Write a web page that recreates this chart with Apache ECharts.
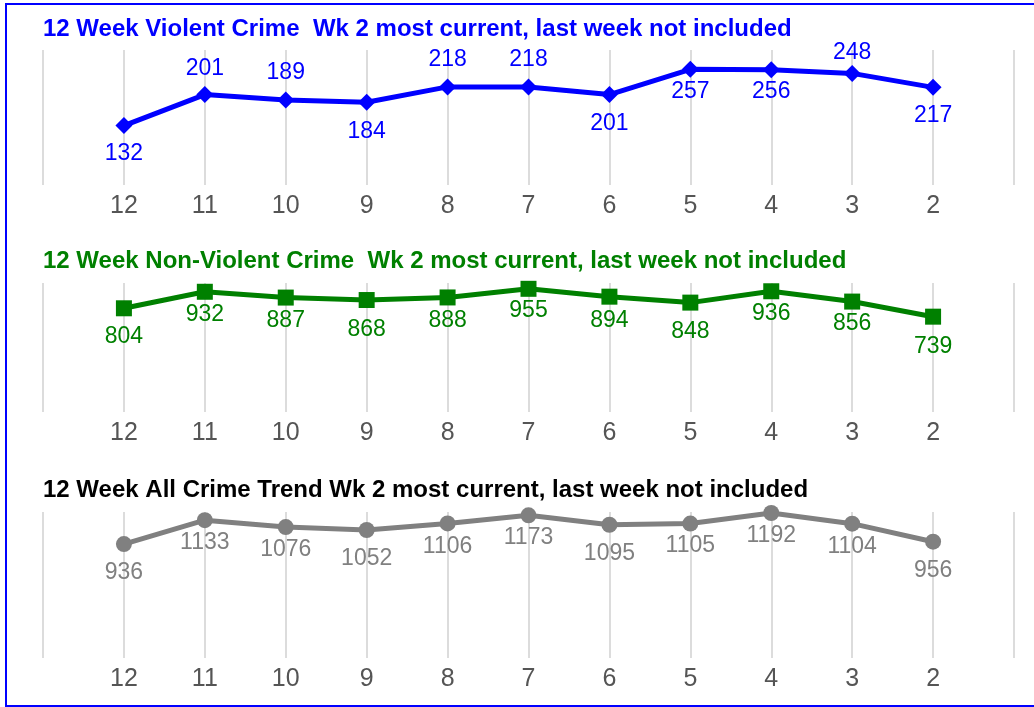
<!DOCTYPE html>
<html>
<head>
<meta charset="utf-8">
<script src="https://cdn.jsdelivr.net/npm/echarts@6/dist/echarts.min.js"></script>
<style>
    html, body { margin: 0; padding: 0; background: #fff; }
    #frame {
        position: absolute; left: 5px; top: 3px;
        width: 1060px; height: 704px;
        border: 2px solid #0000ff;
        box-sizing: border-box;
    }
    #chart { position: absolute; left: 0; top: 0; width: 1034px; height: 707px; }
</style>
</head>
<body>
<div id="frame"></div>
<div id="chart"></div>
<script>
// weeks back, 12 oldest -> 2 most current
const weeks = [12, 11, 10, 9, 8, 7, 6, 5, 4, 3, 2]

const violent = [132, 201, 189, 184, 218, 218, 201, 257, 256, 248, 217]
const nonViolent = [804, 932, 887, 868, 888, 955, 894, 848, 936, 856, 739]
const allCrime = [936, 1133, 1076, 1052, 1106, 1173, 1095, 1105, 1192, 1104, 956]

const titles = [
    '12 Week Violent Crime  Wk 2 most current, last week not included',
    '12 Week Non-Violent Crime  Wk 2 most current, last week not included',
    '12 Week All Crime Trend Wk 2 most current, last week not included'
]

// where each annotation sits (above / below the point) and how far
const violentLabelPos = ['bottom', 'top', 'top', 'bottom', 'top', 'top', 'bottom', 'bottom', 'bottom', 'top', 'bottom']
const violentLabelGap = [8, 6, 7, 9, 7, 7, 9, 2, 2, 1, 8]
const nonViolentLabelGap = [9, 3, 4, 10, 4, 2, 4, 10, 3, 3, 10]
const allCrimeLabelGap = [9, 3, 3, 9, 4, 3, 9, 3, 3, 3, 9]

const FONT = 'Liberation Sans, Arial, sans-serif'

const chart = echarts.init(document.getElementById('chart'))

const pairs = (vals, pos, gap) => vals.map((v, i) => ({
    value: [weeks[i], v],
    label: { position: pos ? pos[i] : 'bottom', distance: gap[i] }
}))

const grids = [
    { left: 43, right: 20, top: 50, height: 135 },
    { left: 43, right: 20, top: 283, height: 129 },
    { left: 43, right: 20, top: 512, height: 146 }
]

const xAxis = grids.map((g, i) => ({
    type: 'value',
    gridIndex: i,
    inverse: true,
    min: 1,
    max: 13,
    interval: 1,
    axisLine: { show: false },
    axisTick: { show: false },
    splitLine: { show: true, lineStyle: { color: '#dcdcdc', width: 2 } },
    axisLabel: {
        margin: 9,
        fontSize: 25,
        color: '#555555',
        fontFamily: FONT,
        formatter: (v) => (v === 1 || v === 13) ? '' : String(v)
    }
}))

const yMax = [300, 1000, 1200]
const yAxis = yMax.map((m, i) => ({
    type: 'value',
    gridIndex: i,
    min: 0,
    max: m,
    show: false
}))

const titleColors = ['#0000ff', '#008000', '#000000']
const titleTops = [12, 244, 473]

const option = {
    animation: false,
    title: titles.map((t, i) => ({
        text: t,
        left: 38,
        top: titleTops[i],
        textStyle: {
            color: titleColors[i],
            fontSize: 24,
            fontWeight: 'bold',
            fontFamily: FONT
        }
    })),
    grid: grids,
    xAxis: xAxis,
    yAxis: yAxis,
    series: [
        {
            name: 'Violent',
            type: 'line',
            xAxisIndex: 0,
            yAxisIndex: 0,
            symbol: 'diamond',
            symbolSize: 17,
            lineStyle: { color: '#0000ff', width: 5 },
            itemStyle: { color: '#0000ff' },
            label: { show: true, color: '#0000ff', fontSize: 23, fontFamily: FONT },
            data: pairs(violent, violentLabelPos, violentLabelGap)
        },
        {
            name: 'Non-Violent',
            type: 'line',
            xAxisIndex: 1,
            yAxisIndex: 1,
            symbol: 'rect',
            symbolSize: 16,
            lineStyle: { color: '#008000', width: 5 },
            itemStyle: { color: '#008000' },
            label: { show: true, color: '#008000', fontSize: 23, fontFamily: FONT },
            data: pairs(nonViolent, null, nonViolentLabelGap)
        },
        {
            name: 'All Crime',
            type: 'line',
            xAxisIndex: 2,
            yAxisIndex: 2,
            symbol: 'circle',
            symbolSize: 16,
            lineStyle: { color: '#808080', width: 5 },
            itemStyle: { color: '#808080' },
            label: { show: true, color: '#808080', fontSize: 23, fontFamily: FONT },
            data: pairs(allCrime, null, allCrimeLabelGap)
        }
    ]
}

chart.setOption(option)
</script>
</body>
</html>
